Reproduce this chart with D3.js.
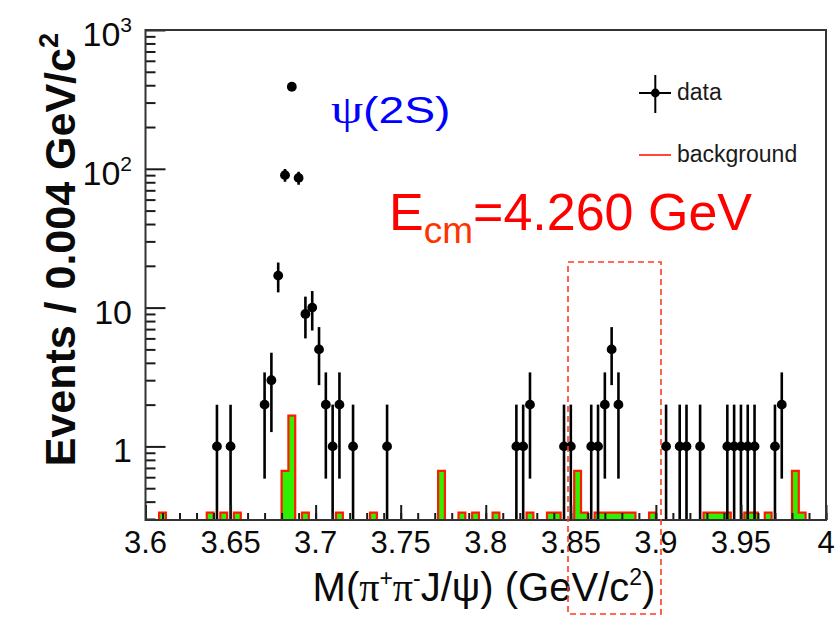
<!DOCTYPE html>
<html>
<head>
<meta charset="utf-8">
<script src="https://cdn.jsdelivr.net/npm/d3@7"></script>
<style>
  body { margin: 0; background: #fff; }
  text { font-family: "Liberation Sans", Arial, sans-serif; }
</style>
</head>
<body>
<svg id="chart" width="837" height="618"></svg>
<script>
// Histogram binning: 100 bins of 0.004 GeV/c^2 from 3.6 to 4.0
const binLow = 3.6;
const binWidth = 0.004;

// Data: bin index and event count for every non-empty bin
const dataBins   = [10, 12, 17, 18, 19, 20, 21, 22, 23, 24, 25, 26, 27, 28, 30, 35,
                    54, 55, 56, 61, 62, 65, 66, 67, 68, 69,
                    76, 78, 79, 81, 85, 86, 87, 88, 89, 92, 93];
const dataCounts = [1, 1, 2, 3, 17, 90, 390, 86, 9, 10, 5, 2, 1, 2, 1, 1,
                    1, 1, 2, 1, 1, 1, 1, 2, 5, 2,
                    1, 1, 1, 1, 1, 1, 1, 1, 1, 1, 2];

// Sideband background (normalised), bin index and content
const bkgBins   = [2, 9, 11, 13, 20, 21, 23, 28, 33, 43, 46, 48, 51, 56, 59, 60,
                   63, 64, 66, 67, 68, 69, 70, 71, 74, 82, 83, 84, 85, 88, 89, 91, 95, 96];
const bkgCounts = [1/3, 1/3, 1/3, 1/3, 2/3, 5/3, 1/3, 1/3, 1/3, 2/3, 1/3, 1/3, 1/3, 1/3, 1/3, 1/3,
                   2/3, 1/3, 1/3, 1/3, 1/3, 1/3, 1/3, 1/3, 1/3, 1/3, 1/3, 1/3, 1/3, 1/3, 1/3, 1/3, 2/3, 1/3];

// Axis ticks and labels
const xMajorTicks = [3.6, 3.65, 3.7, 3.75, 3.8, 3.85, 3.9, 3.95, 4.0];
const xTickLabels = ["3.6", "3.65", "3.7", "3.75", "3.8", "3.85", "3.9", "3.95", "4"];
const yMajorTicks = [1, 10, 100, 1000];
const yTickBase   = ["1", "10", "10", "10"];
const yTickExp    = ["", "", "2", "3"];

const svg = d3.select("#chart");
const frame = { left: 145.5, right: 826, top: 30, bottom: 520 };

const x = d3.scaleLinear().domain([3.6, 4.0]).range([frame.left, frame.right]);
const yMin = 0.295;
const y = d3.scaleLog().domain([yMin, 1000]).range([frame.bottom, frame.top]);

svg.append("defs").append("clipPath").attr("id", "plotClip")
  .append("rect")
  .attr("x", frame.left).attr("y", frame.top)
  .attr("width", frame.right - frame.left).attr("height", frame.bottom - frame.top);

const plot = svg.append("g").attr("clip-path", "url(#plotClip)");

// ---- background histogram: one filled step outline per run of adjacent bins
const bkg = bkgBins.map((b, i) => ({ bin: b, v: bkgCounts[i] }));
const runs = [];
bkg.forEach(d => {
  const last = runs[runs.length - 1];
  if (last && last[last.length - 1].bin === d.bin - 1) last.push(d);
  else runs.push([d]);
});
const stepLine = d3.line().x(p => x(p[0])).y(p => y(p[1]));
runs.forEach(run => {
  const pts = [];
  const lo = binLow + run[0].bin * binWidth;
  pts.push([lo, yMin]);
  run.forEach(d => {
    const l = binLow + d.bin * binWidth, r = l + binWidth;
    pts.push([l, d.v]);
    pts.push([r, d.v]);
  });
  const hi = binLow + (run[run.length - 1].bin + 1) * binWidth;
  pts.push([hi, yMin]);
  plot.append("path")
    .attr("d", stepLine(pts) + "Z")
    .attr("fill", "#2ef000")
    .attr("stroke", "#ff1a00")
    .attr("stroke-width", 2.2)
    .attr("stroke-linejoin", "miter");
});

// ---- axis ticks (drawn inward from the frame)
function minorValues() {
  const out = [];
  [0.1, 1, 10, 100].forEach(dec => {
    for (let k = 2; k <= 9; k++) {
      const v = k * dec;
      if (v >= yMin && v < 1000) out.push(v);
    }
  });
  return out;
}
const tickStyle = g => {
  g.select(".domain").remove();
  g.selectAll(".tick line").attr("stroke", "#1a1a1a").attr("stroke-width", 2);
  g.selectAll(".tick text").remove();
};
svg.append("g").attr("transform", `translate(${frame.left},0)`)
  .call(d3.axisRight(y).tickValues(minorValues()).tickSize(10).tickFormat(""))
  .call(tickStyle);
svg.append("g").attr("transform", `translate(${frame.left},0)`)
  .call(d3.axisRight(y).tickValues(yMajorTicks).tickSize(20).tickFormat(""))
  .call(tickStyle);

const xMinor = d3.range(0, 41).map(i => 3.6 + i * 0.01);
svg.append("g").attr("transform", `translate(0,${frame.bottom})`)
  .call(d3.axisTop(x).tickValues(xMinor).tickSize(7).tickFormat(""))
  .call(tickStyle);
svg.append("g").attr("transform", `translate(0,${frame.bottom})`)
  .call(d3.axisTop(x).tickValues(xMajorTicks).tickSize(15).tickFormat(""))
  .call(tickStyle);

// ---- data points with sqrt(N) error bars
const data = dataBins.map((b, i) => ({
  xc: binLow + (b + 0.5) * binWidth,
  n: dataCounts[i]
}));
const pts = plot.append("g");
pts.selectAll("line.err").data(data).join("line")
  .attr("class", "err")
  .attr("x1", d => x(d.xc)).attr("x2", d => x(d.xc))
  .attr("y1", d => y(Math.max(d.n - Math.sqrt(d.n), yMin)))
  .attr("y2", d => y(d.n + Math.sqrt(d.n)))
  .attr("stroke", "#000").attr("stroke-width", 2.6);
pts.selectAll("circle").data(data).join("circle")
  .attr("cx", d => x(d.xc)).attr("cy", d => y(d.n))
  .attr("r", 4.9).attr("fill", "#000");

// ---- frame
svg.append("rect")
  .attr("x", frame.left).attr("y", frame.top)
  .attr("width", frame.right - frame.left).attr("height", frame.bottom - frame.top)
  .attr("fill", "none").attr("stroke", "#333").attr("stroke-width", 2);

// ---- tick labels
svg.append("g").selectAll("text").data(xMajorTicks).join("text")
  .attr("x", d => x(d)).attr("y", 553)
  .attr("text-anchor", "middle")
  .attr("font-size", 31).attr("fill", "#0a0a0a")
  .text((d, i) => xTickLabels[i]);

const yl = svg.append("g").selectAll("text").data(yMajorTicks).join("text")
  .attr("x", 132).attr("y", d => y(d) + 16)
  .attr("text-anchor", "end")
  .attr("font-size", 34).attr("fill", "#0a0a0a");
yl.append("tspan").text((d, i) => yTickBase[i]);
yl.append("tspan").attr("font-size", 21).attr("dy", -14).text((d, i) => yTickExp[i]);

// ---- axis titles
const xt = svg.append("text")
  .attr("x", 484).attr("y", 601)
  .attr("text-anchor", "middle").attr("font-size", 40).attr("fill", "#0a0a0a");
xt.append("tspan").text("M(");
xt.append("tspan").attr("font-family", "Liberation Serif").text("π");
xt.append("tspan").attr("font-size", 23).attr("dy", -15).text("+");
xt.append("tspan").attr("font-family", "Liberation Serif").attr("dy", 15).text("π");
xt.append("tspan").attr("font-size", 23).attr("dy", -15).text("-");
xt.append("tspan").attr("dy", 15).text("J/ψ) (GeV/c");
xt.append("tspan").attr("font-size", 23).attr("dy", -16).text("2");
xt.append("tspan").attr("dy", 16).text(")");

const ytitle = svg.append("text")
  .attr("transform", `translate(75,${frame.top + 3}) rotate(-90)`)
  .attr("text-anchor", "end").attr("font-size", 43).attr("font-weight", "bold")
  .attr("fill", "#0a0a0a");
ytitle.append("tspan").text("Events / 0.004 GeV/c");
ytitle.append("tspan").attr("font-size", 27).attr("dy", -17).text("2");

// ---- annotations
const psi = svg.append("text")
  .attr("transform", "translate(331,123) scale(1.25,1)")
  .attr("fill", "#0000ff").attr("font-size", 37);
psi.append("tspan").attr("font-family", "Liberation Serif").attr("font-size", 41).text("ψ");
psi.append("tspan").text("(2S)");

const ecm = svg.append("text").attr("x", 389).attr("y", 230).attr("fill", "#ff0000").attr("font-size", 52);
ecm.append("tspan").text("E");
ecm.append("tspan").attr("font-size", 37).attr("dy", 13).attr("fill", "#ff3300").text("cm");
ecm.append("tspan").attr("dy", -13).text("=4.260 GeV");

// ---- legend
const lg = svg.append("g");
lg.append("line").attr("x1", 655.3).attr("x2", 655.3).attr("y1", 75).attr("y2", 113)
  .attr("stroke", "#000").attr("stroke-width", 2);
lg.append("line").attr("x1", 639).attr("x2", 671).attr("y1", 93).attr("y2", 93)
  .attr("stroke", "#000").attr("stroke-width", 2);
lg.append("circle").attr("cx", 655.3).attr("cy", 93).attr("r", 4.4).attr("fill", "#000");
lg.append("text").attr("x", 677).attr("y", 100).attr("font-size", 23).attr("fill", "#1a1a1a").text("data");
lg.append("line").attr("x1", 639).attr("x2", 671).attr("y1", 155).attr("y2", 155)
  .attr("stroke", "#ff1a00").attr("stroke-width", 1.6);
lg.append("text").attr("x", 677).attr("y", 162).attr("font-size", 23).attr("fill", "#1a1a1a").text("background");

// ---- dashed signal window
svg.append("rect")
  .attr("x", 568).attr("y", 262).attr("width", 93).attr("height", 352)
  .attr("fill", "none").attr("stroke", "#ff3b1f").attr("stroke-width", 1.6)
  .attr("stroke-dasharray", "6,4");
</script>
</body>
</html>
